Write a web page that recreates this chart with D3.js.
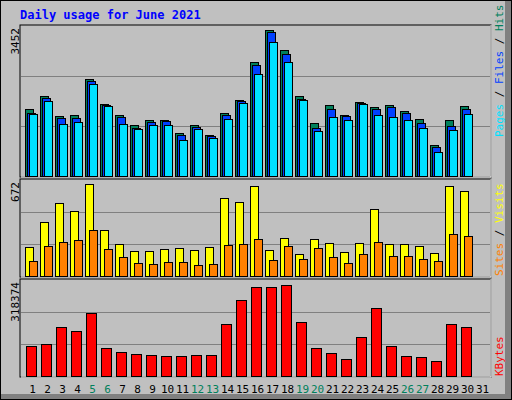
<!DOCTYPE html>
<html><head><meta charset="utf-8">
<script src="https://cdn.jsdelivr.net/npm/d3@7"></script>
<style>body{margin:0;background:#fff}svg{display:block}</style>
</head><body>
<svg id="chart" width="512" height="400"></svg>
<script>
// Daily values
const days = d3.range(1, 32);
const weekendDays = [5, 6, 12, 13, 19, 20, 26, 27];
const hits = [1532,1852,1372,1394,2240,1646,1394,1166,1280,1280,983,1166,937,1440,1760,2629,3360,2903,1852,1212,1623,1394,1692,1577,1623,1486,1303,709,1280,1600];
const files = [1440,1806,1326,1326,2195,1623,1349,1097,1234,1257,937,1120,914,1394,1737,2560,3315,2812,1783,1097,1532,1372,1669,1532,1577,1440,1212,663,1143,1532];
const pages = [1417,1737,1189,1234,2126,1600,1189,1074,1166,1166,823,1074,869,1303,1669,2355,3086,2629,1760,1029,1349,1280,1646,1394,1349,1280,1097,549,1052,1417];
const visits = [203,378,511,455,644,322,224,175,175,189,196,182,203,546,518,630,182,266,154,259,231,168,231,469,224,224,210,161,630,595];
const sites = [105,210,238,252,322,189,133,91,84,98,98,77,84,217,224,259,112,210,119,196,133,91,154,238,140,140,119,105,294,280];
const kbytes = [100600,107200,163600,150300,210000,94000,80700,74100,70800,67400,67400,70800,70800,173600,253200,296300,296300,302900,180200,94000,77400,57500,130400,226600,100600,67400,64100,50900,173600,163600];
const maxHits = 3452, maxVisits = 672, maxKB = 318374;

const svg = d3.select("#chart");
const font = "'DejaVu Sans Mono', monospace";

// frame with shadow
svg.append("rect").attr("x", 0).attr("y", 0).attr("width", 512).attr("height", 400).attr("fill", "#000");
svg.append("rect").attr("x", 1).attr("y", 1).attr("width", 510).attr("height", 398).attr("fill", "#808080");
svg.append("rect").attr("x", 1).attr("y", 1).attr("width", 504).attr("height", 393).attr("fill", "#c0c0c0");
svg.append("text").attr("x", 20).attr("y", 19).text("Daily usage for June 2021")
  .attr("font-family", font).attr("font-weight", "bold").attr("font-size", 12).attr("fill", "#0000ff");

const x = d3.scaleBand().domain(days).range([26, 491]);

const panels = [
  { top: 26, bottom: 176, max: maxHits, label: "3452" },
  { top: 180, bottom: 276, max: maxVisits, label: "672" },
  { top: 280, bottom: 376, max: maxKB, label: "318374" }
];

panels.forEach(p => {
  svg.append("rect").attr("x", 20).attr("y", p.top - 1).attr("width", 471).attr("height", p.bottom - p.top + 2)
    .attr("fill", "#c0c0c0").attr("stroke", "#000");
  svg.append("path").attr("d", `M21,${p.bottom + 1}H491V${p.top - 1}`).attr("stroke", "#fff").attr("fill", "none");
  p.y = d3.scaleLinear().domain([0, p.max]).range([p.bottom, p.top]);
  [p.max / 3, p.max * 2 / 3].forEach(v => {
    svg.append("line").attr("x1", 21).attr("x2", 490).attr("y1", Math.round(p.y(v)) + 0.5).attr("y2", Math.round(p.y(v)) + 0.5)
      .attr("stroke", "#808080");
  });
  svg.append("text").attr("transform", `translate(19,${p.top + 2}) rotate(-90)`).attr("text-anchor", "end")
    .attr("font-family", font).attr("font-size", 11).attr("fill", "#000").text(p.label);
});

function bars(data, panel, dx, w, color) {
  svg.append("g").selectAll("rect").data(data).join("rect")
    .attr("x", (d, i) => x(days[i]) + dx + 0.5)
    .attr("y", d => Math.round(panel.y(d)) + 0.5)
    .attr("width", w)
    .attr("height", d => panel.bottom - Math.round(panel.y(d)))
    .attr("fill", color).attr("stroke", "#000");
}
bars(hits, panels[0], -1, 8, "#00805c");
bars(files, panels[0], 1, 8, "#0040ff");
bars(pages, panels[0], 3, 8, "#00e0ff");
bars(visits, panels[1], -1, 8, "#ffff00");
bars(sites, panels[1], 3, 8, "#ff8000");
bars(kbytes, panels[2], 0, 10, "#ff0000");

// day labels
svg.append("g").selectAll("text").data(days).join("text")
  .attr("x", d => x(d) + x.bandwidth() / 2 - 1).attr("y", 393).attr("text-anchor", "middle")
  .attr("font-family", font).attr("font-size", 11)
  .attr("fill", d => weekendDays.includes(d) ? "#00805c" : "#000").text(d => d);

// right side legends
function legend(parts, yBottom) {
  const t = svg.append("text").attr("transform", `translate(503,${yBottom}) rotate(-90)`)
    .attr("font-family", font).attr("font-size", 11);
  parts.forEach(([s, c]) => t.append("tspan").attr("fill", c).text(s));
}
legend([["Pages", "#00e0ff"], [" / ", "#000"], ["Files", "#0040ff"], [" / ", "#000"], ["Hits", "#00805c"]], 137);
legend([["Sites", "#ff8000"], [" / ", "#000"], ["Visits", "#ffff00"]], 276);
legend([["KBytes", "#ff0000"]], 376);
</script>
</body></html>
